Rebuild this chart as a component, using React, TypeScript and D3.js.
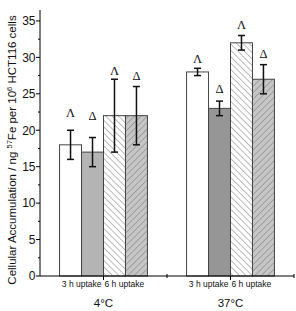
import React, { useEffect } from 'react';
import * as d3 from 'd3';

// groups on the x axis
const groups = ['4°C', '37°C'];
// bars inside each group
const series = ['3h', '3hDfo', '6h', '6hDfo'];
const subLabels = ['3 h uptake', '6 h uptake'];

// values per group, order follows `series`
const means = [
    [18, 17, 22, 22],
    [28, 23, 32, 27],
];
const errs = [
    [2, 2, 5, 4],
    [0.5, 1, 1, 2],
];
// symbol marks above bars and the value they sit at
const marks = ['Λ', 'Δ', 'Λ', 'Δ'];
const markAt = [
    [21.8, 21.4, 27.6, 26.9],
    [29.2, 25.1, 33.9, 29.9],
];

const yTicks = [0, 5, 10, 15, 20, 25, 30, 35];

const W = 296;
const H = 311;
const FONT = '"Liberation Sans", Arial, sans-serif';
const SERIF = '"Liberation Serif", "Times New Roman", serif';

export default function App() {
    useEffect(() => {
        document.body.style.margin = '0';
    }, []);

    const x0 = d3.scaleBand<string>().domain(groups).range([40, 294]).padding(0);
    const x1 = d3.scaleBand<string>().domain(series).range([0, x0.bandwidth()])
        .paddingInner(0).paddingOuter(0.89);
    const y = d3.scaleLinear().domain([0, 36.5]).range([276, 10]);

    const minorY = d3.range(2.5, 36.5, 5);

    const fillFor = (gi: number, si: number) => {
        if (si === 0) return '#ffffff';
        if (si === 1) return gi === 0 ? '#b4b4b4' : '#969696';
        if (si === 2) return 'url(#hatchBack)';
        return 'url(#hatchFwd)';
    };

    return (
        <svg width={W} height={H} style={{ display: 'block' }} fontFamily={FONT}>
            <defs>
                <pattern id="hatchBack" patternUnits="userSpaceOnUse" width="4.5" height="4.5"
                         patternTransform="rotate(-45)">
                    <rect width="4.5" height="4.5" fill="#ffffff" />
                    <line x1="0" y1="0" x2="0" y2="4.5" stroke="#555" strokeWidth="0.8" />
                </pattern>
                <pattern id="hatchFwd" patternUnits="userSpaceOnUse" width="4.5" height="4.5"
                         patternTransform="rotate(45)">
                    <rect width="4.5" height="4.5" fill="#c6c6c6" />
                    <line x1="0" y1="0" x2="0" y2="4.5" stroke="#666" strokeWidth="0.8" />
                </pattern>
            </defs>

            {/* bars */}
            {groups.map((g, gi) => (
                <g key={g} transform={`translate(${x0(g)},0)`}>
                    {series.map((s, si) => {
                        const bx = x1(s)!;
                        const bw = x1.bandwidth();
                        const v = means[gi][si];
                        const e = errs[gi][si];
                        const cx = bx + bw / 2;
                        return (
                            <g key={s}>
                                <rect x={bx} y={y(v)} width={bw} height={y(0) - y(v)}
                                      fill={fillFor(gi, si)} stroke="#444" strokeWidth={1} />
                                <line x1={cx} x2={cx} y1={y(v + e)} y2={y(v - e)} stroke="#111" strokeWidth={1.5} />
                                <line x1={cx - 3.5} x2={cx + 3.5} y1={y(v + e)} y2={y(v + e)} stroke="#111" strokeWidth={1.5} />
                                <line x1={cx - 3.5} x2={cx + 3.5} y1={y(v - e)} y2={y(v - e)} stroke="#111" strokeWidth={1.5} />
                                <text x={cx} y={y(markAt[gi][si])} textAnchor="middle" fontSize={12.5}
                                      fontFamily={SERIF} fill="#111">{marks[si]}</text>
                            </g>
                        );
                    })}
                </g>
            ))}

            {/* y axis */}
            <line x1={40} x2={40} y1={y(0)} y2={y(36.5)} stroke="#000" strokeWidth={1} />
            {yTicks.map(t => (
                <g key={t}>
                    <line x1={36} x2={40} y1={y(t)} y2={y(t)} stroke="#000" strokeWidth={1} />
                    <text x={35.5} y={y(t)} dy="0.36em" textAnchor="end" fontSize={12} fill="#111">{t}</text>
                </g>
            ))}
            {minorY.map(t => (
                <line key={t} x1={38} x2={40} y1={y(t)} y2={y(t)} stroke="#000" strokeWidth={1} />
            ))}

            {/* x axis */}
            <line x1={40} x2={294} y1={y(0)} y2={y(0)} stroke="#000" strokeWidth={1} />
            {groups.map(g => {
                const c = x0(g)! + x0.bandwidth() / 2;
                return (
                    <g key={g}>
                        <line x1={c} x2={c} y1={y(0)} y2={y(0) + 4} stroke="#000" strokeWidth={1} />
                        <line x1={x0(g)! + x0.bandwidth()} x2={x0(g)! + x0.bandwidth()} y1={y(0) - 2}
                              y2={y(0) + 2} stroke="#000" strokeWidth={1} />
                        <text x={c - 2} y={287} textAnchor="end" fontSize={8.5} fill="#111">{subLabels[0]}</text>
                        <text x={c + 1} y={287} textAnchor="start" fontSize={8.5} fill="#111">{subLabels[1]}</text>
                        <text x={c} y={307} textAnchor="middle" fontSize={11.5} fill="#111">{g}</text>
                    </g>
                );
            })}

            {/* y label */}
            <text transform={`translate(16,150) rotate(-90)`} textAnchor="middle" fontSize={11.5} fill="#111">
                Cellular Accumulation / ng <tspan fontSize={7.5} dy={-4.5}>57</tspan>
                <tspan dy={4.5}>Fe per 10</tspan><tspan fontSize={7.5} dy={-4.5}>6</tspan>
                <tspan dy={4.5}> HCT116 cells</tspan>
            </text>
        </svg>
    );
}
